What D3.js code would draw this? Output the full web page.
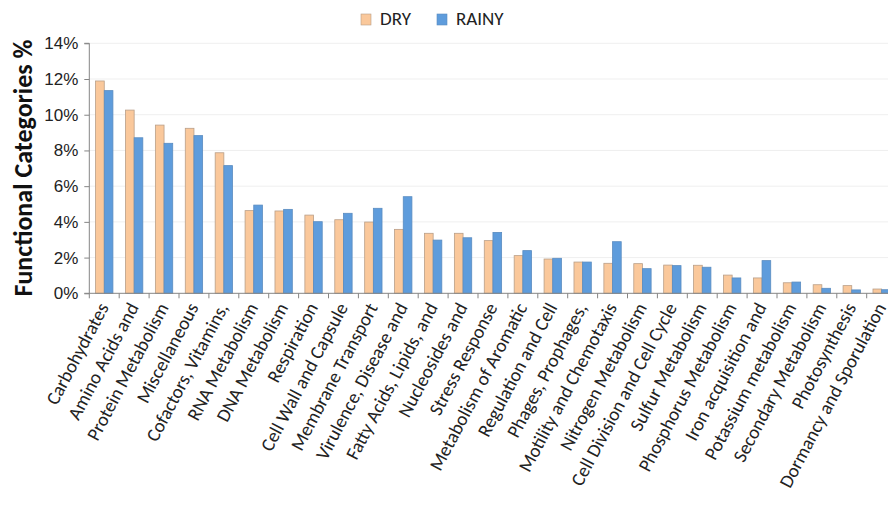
<html>
<head>
<script src="https://cdn.jsdelivr.net/npm/d3@7"></script>
<style>
    body { margin: 0; background: #fff; }
    svg { display: block; font-family: Calibri, Carlito, Lato, sans-serif; }
    .grid line { stroke: #efefef; }
    .axis path, .axis line { stroke: #858585; }
    .axis text { fill: #222; }
</style>
</head>
<body>
<svg id='chart' width=888 height=511></svg>
<script>

    var categories = [
        'Carbohydrates', 'Amino Acids and', 'Protein Metabolism', 'Miscellaneous',
        'Cofactors, Vitamins,', 'RNA Metabolism', 'DNA Metabolism', 'Respiration',
        'Cell Wall and Capsule', 'Membrane Transport', 'Virulence, Disease and',
        'Fatty Acids, Lipids, and', 'Nucleosides and', 'Stress Response',
        'Metabolism of Aromatic', 'Regulation and Cell', 'Phages, Prophages,',
        'Motility and Chemotaxis', 'Nitrogen Metabolism', 'Cell Division and Cell Cycle',
        'Sulfur Metabolism', 'Phosphorus Metabolism', 'Iron acquisition and',
        'Potassium metabolism', 'Secondary Metabolism', 'Photosynthesis',
        'Dormancy and Sporulation'
    ];

    var dry   = [11.89, 10.26, 9.42, 9.24, 7.87, 4.63, 4.61, 4.38, 4.12, 3.99, 3.58, 3.36, 3.36,
                 2.95, 2.11, 1.92, 1.75, 1.68, 1.66, 1.58, 1.57, 1.02, 0.86, 0.59, 0.48, 0.43, 0.24];
    var rainy = [11.35, 8.71, 8.40, 8.83, 7.15, 4.94, 4.70, 4.01, 4.48, 4.76, 5.41, 2.98, 3.11,
                 3.41, 2.39, 1.96, 1.75, 2.89, 1.38, 1.55, 1.46, 0.86, 1.83, 0.63, 0.28, 0.19, 0.20];

    var seriesNames = ['DRY', 'RAINY'];
    var yTicks = [0, 2, 4, 6, 8, 10, 12, 14];

    var fills   = ['#FAC89B', '#5E9CDC'];
    var strokes = ['#b99f88', '#5a8cc0'];

    var svg = d3.select('#chart');
    var plotLeft = 89.3, plotTop = 43.3, plotBottom = 293.3, plotRight = 896.6;

    var x = d3.scaleBand()
            .domain(categories)
            .range([plotLeft, plotRight])
            .paddingInner(0.42)
            .paddingOuter(0.21);

    var x1 = d3.scaleBand()
            .domain(seriesNames)
            .range([0, x.bandwidth()]);

    var y = d3.scaleLinear()
            .domain([0, 14])
            .range([plotBottom, plotTop]);

    // faint gridlines
    svg.append('g')
        .attr('class', 'grid')
      .selectAll('line')
        .data(yTicks.slice(1))
      .enter()
        .append('line')
        .attr('x1', plotLeft)
        .attr('x2', 888)
        .attr('y1', function(d) { return y(d); })
        .attr('y2', function(d) { return y(d); });

    // bars
    var groups = svg.selectAll('.cat')
        .data(categories)
      .enter()
        .append('g')
        .attr('class', 'cat')
        .attr('transform', function(d) { return 'translate(' + x(d) + ',0)'; });

    groups.selectAll('rect')
        .data(function(d, i) { return [dry[i], rainy[i]]; })
      .enter()
        .append('rect')
        .attr('x', function(d, i) { return x1(seriesNames[i]); })
        .attr('y', function(d) { return y(d); })
        .attr('width', x1.bandwidth())
        .attr('height', function(d) { return plotBottom - y(d); })
        .attr('fill', function(d, i) { return fills[i]; })
        .attr('stroke', function(d, i) { return strokes[i]; })
        .attr('stroke-width', 0.8);

    // y axis
    var yAxis = svg.append('g')
        .attr('class', 'axis')
        .attr('transform', 'translate(' + plotLeft + ',0)')
        .call(d3.axisLeft(y)
            .tickValues(yTicks)
            .tickSize(5)
            .tickPadding(6)
            .tickFormat(function(d) { return d + '%'; }));
    yAxis.selectAll('text').style('font-size', '17px');
    yAxis.select('.domain').attr('d', 'M-5,' + plotTop + 'H0V' + plotBottom);

    // x axis: line with ticks at band boundaries
    var xAxis = svg.append('g').attr('class', 'axis');
    xAxis.append('line')
        .attr('x1', plotLeft - 5).attr('x2', 888)
        .attr('y1', plotBottom).attr('y2', plotBottom);
    xAxis.selectAll('.bt')
        .data(categories)
      .enter()
        .append('line')
        .attr('class', 'bt')
        .attr('x1', function(d) { return x(d) - x.step() * x.paddingOuter(); })
        .attr('x2', function(d) { return x(d) - x.step() * x.paddingOuter(); })
        .attr('y1', plotBottom)
        .attr('y2', plotBottom + 5);

    xAxis.selectAll('.lbl')
        .data(categories)
      .enter()
        .append('text')
        .attr('class', 'lbl')
        .attr('text-anchor', 'end')
        .style('font-size', '19px')
        .attr('transform', function(d) {
            return 'translate(' + (x(d) + x.bandwidth() / 2 + 5) + ',' + (plotBottom + 14) + ') rotate(-62)';
        })
        .text(function(d) { return d; });

    // y title
    svg.append('text')
        .attr('transform', 'translate(32,168) rotate(-90)')
        .attr('text-anchor', 'middle')
        .style('font-size', '26px')
        .style('font-weight', 'bold')
        .attr('fill', '#111')
        .text('Functional Categories %');

    // legend
    var legendX = [361, 437];
    var legend = svg.selectAll('.leg')
        .data(seriesNames)
      .enter()
        .append('g')
        .attr('class', 'leg')
        .attr('transform', function(d, i) { return 'translate(' + legendX[i] + ',14)'; });

    legend.append('rect')
        .attr('width', 10)
        .attr('height', 11)
        .attr('fill', function(d, i) { return fills[i]; })
        .attr('stroke', function(d, i) { return strokes[i]; })
        .attr('stroke-width', 0.6);

    legend.append('text')
        .attr('x', 19)
        .attr('y', 11)
        .style('font-size', '19px')
        .attr('fill', '#222')
        .text(function(d) { return d; });

</script>
</body>
</html>
